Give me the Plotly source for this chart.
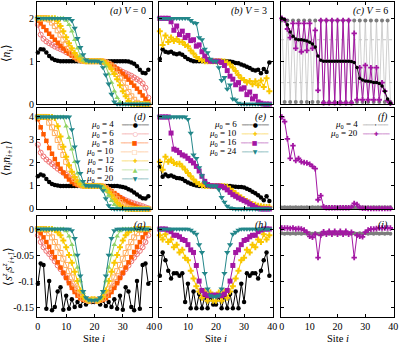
import plotly.graph_objects as go

SITES = list(range(40))

# ---------------- (a) <n_i>, V = 0 ----------------
A_N_MU4 = [1.2, 1.28, 1.27, 1.2, 1.12, 1.06, 1.03, 1.01, 1.0, 1.0,
           1.0, 1.0, 1.0, 1.0, 1.0, 1.0, 1.0, 1.0, 1.0, 1.0,
           1.0, 1.0, 1.0, 1.0, 1.0, 1.0, 1.0, 1.0, 1.0, 1.0,
           1.0, 1.0, 0.99, 0.97, 0.94, 0.88, 0.8, 0.73, 0.72, 0.8]
A_N_MU6 = [1.85, 1.62, 1.52, 1.46, 1.42, 1.38, 1.34, 1.31, 1.28, 1.25,
           1.21, 1.18, 1.14, 1.1, 1.07, 1.04, 1.02, 1.0, 1.0, 1.0,
           1.0, 1.0, 1.0, 0.98, 0.96, 0.93, 0.9, 0.86, 0.82, 0.79,
           0.75, 0.72, 0.69, 0.66, 0.62, 0.58, 0.54, 0.48, 0.38, 0.15]
A_N_MU8 = [1.95, 1.88, 1.8, 1.72, 1.64, 1.57, 1.5, 1.43, 1.36, 1.3,
           1.24, 1.18, 1.13, 1.08, 1.05, 1.02, 1.0, 1.0, 1.0, 1.0,
           1.0, 1.0, 1.0, 1.0, 0.98, 0.95, 0.92, 0.87, 0.82, 0.76,
           0.7, 0.64, 0.57, 0.5, 0.43, 0.36, 0.28, 0.2, 0.12, 0.05]
A_N_MU10 = [2.0, 2.0, 2.0, 2.0, 1.97, 1.9, 1.82, 1.72, 1.62, 1.5,
            1.4, 1.3, 1.2, 1.12, 1.06, 1.03, 1.01, 1.0, 1.0, 1.0,
            1.0, 1.0, 1.0, 0.99, 0.97, 0.94, 0.88, 0.8, 0.7, 0.6,
            0.5, 0.38, 0.28, 0.18, 0.1, 0.03, 0.0, 0.0, 0.0, 0.0]
A_N_MU12 = [2.0, 2.0, 2.0, 2.0, 2.0, 2.0, 2.0, 1.93, 1.82, 1.7,
            1.56, 1.42, 1.3, 1.19, 1.1, 1.04, 1.01, 1.0, 1.0, 1.0,
            1.0, 1.0, 1.0, 0.99, 0.96, 0.9, 0.81, 0.7, 0.58, 0.44,
            0.3, 0.18, 0.07, 0.0, 0.0, 0.0, 0.0, 0.0, 0.0, 0.0]
A_N_MU16 = [2.0, 2.0, 2.0, 2.0, 2.0, 2.0, 2.0, 2.0, 2.0, 2.0,
            1.95, 1.85, 1.7, 1.5, 1.3, 1.12, 1.02, 1.0, 1.0, 1.0,
            1.0, 1.0, 1.0, 0.98, 0.88, 0.7, 0.5, 0.3, 0.15, 0.05,
            0.0, 0.0, 0.0, 0.0, 0.0, 0.0, 0.0, 0.0, 0.0, 0.0]
A_N_MU20 = [2.0, 2.0, 2.0, 2.0, 2.0, 2.0, 2.0, 2.0, 2.0, 2.0,
            2.0, 2.0, 1.95, 1.77, 1.53, 1.32, 1.15, 1.03, 1.0, 1.0,
            1.0, 1.0, 0.97, 0.85, 0.68, 0.47, 0.23, 0.05, 0.0, 0.0,
            0.0, 0.0, 0.0, 0.0, 0.0, 0.0, 0.0, 0.0, 0.0, 0.0]

# ---------------- (d) <n_i n_i+1>, V = 0 ----------------
D_NN_MU4 = [1.42, 1.5, 1.45, 1.3, 1.17, 1.08, 1.04, 1.02, 1.0, 1.0,
            1.0, 1.0, 1.0, 1.0, 1.0, 1.0, 1.0, 1.0, 1.0, 1.0,
            1.0, 1.0, 1.0, 1.0, 1.0, 1.0, 1.0, 1.0, 1.0, 0.98,
            0.96, 0.92, 0.86, 0.8, 0.72, 0.63, 0.54, 0.47, 0.45, 0.55]
D_NN_MU6 = [2.8, 2.45, 2.28, 2.15, 2.05, 1.95, 1.85, 1.75, 1.66, 1.57,
            1.48, 1.38, 1.3, 1.2, 1.13, 1.07, 1.03, 1.0, 1.0, 1.0,
            1.0, 1.0, 1.0, 0.95, 0.88, 0.8, 0.72, 0.65, 0.58, 0.5,
            0.44, 0.38, 0.33, 0.28, 0.24, 0.2, 0.16, 0.12, 0.07, 0.03]
D_NN_MU8 = [3.9, 3.55, 3.25, 2.96, 2.65, 2.4, 2.17, 1.95, 1.75, 1.58,
            1.42, 1.28, 1.17, 1.09, 1.04, 1.01, 1.0, 1.0, 1.0, 1.0,
            1.0, 1.0, 1.0, 0.98, 0.93, 0.86, 0.78, 0.69, 0.6, 0.51,
            0.42, 0.34, 0.27, 0.2, 0.14, 0.09, 0.05, 0.03, 0.01, 0.0]
D_NN_MU10 = [4.0, 4.0, 4.0, 4.0, 3.75, 3.55, 3.3, 3.0, 2.7, 2.35,
             2.05, 1.75, 1.5, 1.3, 1.15, 1.06, 1.02, 1.0, 1.0, 1.0,
             1.0, 1.0, 1.0, 0.97, 0.9, 0.8, 0.68, 0.55, 0.42, 0.3,
             0.19, 0.1, 0.05, 0.02, 0.0, 0.0, 0.0, 0.0, 0.0, 0.0]
D_NN_MU12 = [4.0, 4.0, 4.0, 4.0, 4.0, 4.0, 3.95, 3.6, 3.15, 2.7,
             2.27, 1.9, 1.62, 1.38, 1.18, 1.06, 1.01, 1.0, 1.0, 1.0,
             1.0, 1.0, 1.0, 0.97, 0.88, 0.74, 0.58, 0.42, 0.27, 0.14,
             0.05, 0.01, 0.0, 0.0, 0.0, 0.0, 0.0, 0.0, 0.0, 0.0]
D_NN_MU16 = [4.0, 4.0, 4.0, 4.0, 4.0, 4.0, 4.0, 4.0, 4.0, 4.0,
             3.6, 3.1, 2.6, 2.05, 1.55, 1.2, 1.04, 1.0, 1.0, 1.0,
             1.0, 1.0, 1.0, 0.95, 0.8, 0.58, 0.36, 0.18, 0.06, 0.01,
             0.0, 0.0, 0.0, 0.0, 0.0, 0.0, 0.0, 0.0, 0.0, 0.0]
D_NN_MU20 = [4.0, 4.0, 4.0, 4.0, 4.0, 4.0, 4.0, 4.0, 4.0, 4.0,
             4.0, 4.0, 3.45, 2.7, 2.05, 1.55, 1.2, 1.02, 1.0, 1.0,
             1.0, 1.0, 0.97, 0.8, 0.45, 0.15, 0.03, 0.0, 0.0, 0.0,
             0.0, 0.0, 0.0, 0.0, 0.0, 0.0, 0.0, 0.0, 0.0, 0.0]

# ---------------- (g) <s_i s_i+1>, V = 0 ----------------
G_SZ_MU4 = [-0.105, -0.066, -0.069, -0.153, -0.1, -0.156, -0.15, -0.12, -0.112, -0.155,
            -0.128, -0.153, -0.135, -0.15, -0.14, -0.148, -0.138, -0.145, -0.138, -0.14,
            -0.14, -0.138, -0.145, -0.138, -0.148, -0.14, -0.15, -0.135, -0.153, -0.128,
            -0.155, -0.112, -0.12, -0.15, -0.156, -0.1, -0.153, -0.069, -0.066, -0.105]
G_SZ_MU6 = [-0.012, -0.025, -0.035, -0.042, -0.048, -0.055, -0.062, -0.07, -0.077, -0.085,
            -0.093, -0.101, -0.109, -0.117, -0.124, -0.13, -0.134, -0.136, -0.138, -0.136,
            -0.136, -0.138, -0.136, -0.134, -0.13, -0.124, -0.117, -0.109, -0.101, -0.093,
            -0.085, -0.077, -0.07, -0.062, -0.055, -0.048, -0.042, -0.035, -0.025, -0.012]
G_SZ_MU8 = [-0.002, -0.008, -0.016, -0.025, -0.034, -0.044, -0.054, -0.064, -0.074, -0.084,
            -0.094, -0.104, -0.113, -0.121, -0.128, -0.133, -0.136, -0.137, -0.135, -0.138,
            -0.138, -0.135, -0.137, -0.136, -0.133, -0.128, -0.121, -0.113, -0.104, -0.094,
            -0.084, -0.074, -0.064, -0.054, -0.044, -0.034, -0.025, -0.016, -0.008, -0.002]
G_SZ_MU10 = [0.0, 0.0, 0.0, -0.002, -0.008, -0.016, -0.025, -0.035, -0.046, -0.057,
             -0.069, -0.081, -0.093, -0.105, -0.116, -0.126, -0.132, -0.136, -0.138, -0.136,
             -0.136, -0.138, -0.136, -0.132, -0.126, -0.116, -0.105, -0.093, -0.081, -0.069,
             -0.057, -0.046, -0.035, -0.025, -0.016, -0.008, -0.002, 0.0, 0.0, 0.0]
G_SZ_MU12 = [0.0, 0.0, 0.0, 0.0, 0.0, 0.0, -0.002, -0.006, -0.012, -0.022,
             -0.035, -0.05, -0.065, -0.082, -0.1, -0.118, -0.13, -0.135, -0.138, -0.135,
             -0.135, -0.138, -0.135, -0.13, -0.118, -0.1, -0.082, -0.065, -0.05, -0.035,
             -0.022, -0.012, -0.006, -0.002, 0.0, 0.0, 0.0, 0.0, 0.0, 0.0]
G_SZ_MU16 = [0.0, 0.0, 0.0, 0.0, 0.0, 0.0, 0.0, 0.0, 0.0, 0.0,
             -0.004, -0.014, -0.03, -0.05, -0.074, -0.1, -0.122, -0.133, -0.137, -0.136,
             -0.136, -0.137, -0.133, -0.122, -0.1, -0.074, -0.05, -0.03, -0.014, -0.004,
             0.0, 0.0, 0.0, 0.0, 0.0, 0.0, 0.0, 0.0, 0.0, 0.0]
G_SZ_MU20 = [0.0, 0.0, 0.0, 0.0, 0.0, 0.0, 0.0, 0.0, 0.0, 0.0,
             0.0, 0.0, -0.003, -0.018, -0.05, -0.09, -0.12, -0.132, -0.136, -0.137,
             -0.137, -0.136, -0.132, -0.12, -0.09, -0.05, -0.018, -0.003, 0.0, 0.0,
             0.0, 0.0, 0.0, 0.0, 0.0, 0.0, 0.0, 0.0, 0.0, 0.0]

# ---------------- (b) <n_i>, V = 3 ----------------
B_N_MU6 = [1.05, 1.28, 1.22, 1.2, 1.22, 1.18, 1.16, 1.18, 1.15, 1.1,
           1.05, 1.02, 1.0, 1.0, 1.0, 1.0, 1.0, 1.0, 1.0, 1.0,
           1.0, 1.0, 1.0, 1.0, 1.0, 0.99, 0.98, 0.96, 0.95, 0.92,
           0.9, 0.87, 0.84, 0.8, 0.78, 0.8, 0.72, 0.82, 0.75, 0.97]
B_N_MU10 = [1.7, 1.38, 1.6, 1.45, 1.55, 1.47, 1.52, 1.45, 1.45, 1.38,
            1.35, 1.25, 1.18, 1.1, 1.05, 1.02, 1.0, 1.0, 1.0, 1.0,
            1.0, 1.0, 1.0, 0.99, 0.97, 0.92, 0.85, 0.77, 0.68, 0.6,
            0.56, 0.5, 0.54, 0.46, 0.53, 0.44, 0.55, 0.4, 0.6, 0.3]
B_N_MU16 = [2.0, 2.0, 2.0, 2.0, 1.92, 1.72, 1.82, 1.62, 1.7, 1.55,
            1.6, 1.48, 1.5, 1.35, 1.38, 1.22, 1.12, 1.04, 1.0, 1.0,
            1.0, 1.0, 0.97, 0.9, 0.78, 0.65, 0.58, 0.45, 0.5, 0.35,
            0.38, 0.22, 0.28, 0.12, 0.18, 0.05, 0.02, 0.0, 0.0, 0.0]
B_N_MU24 = [2.0, 2.0, 2.0, 2.0, 2.0, 2.0, 2.0, 2.0, 2.0, 2.0,
            2.0, 1.95, 1.9, 1.88, 1.55, 1.5, 1.28, 1.2, 1.05, 1.0,
            1.0, 0.85, 0.55, 0.62, 0.35, 0.45, 0.12, 0.1, 0.02, 0.0,
            0.0, 0.0, 0.0, 0.0, 0.0, 0.0, 0.0, 0.0, 0.0, 0.0]

# ---------------- (e) <n_i n_i+1>, V = 3 ----------------
E_NN_MU6 = [1.85, 1.4, 1.5, 1.42, 1.45, 1.4, 1.35, 1.33, 1.3, 1.22,
            1.15, 1.1, 1.05, 1.02, 1.0, 1.0, 1.0, 1.0, 1.0, 1.0,
            1.0, 1.0, 1.0, 1.0, 1.0, 1.0, 0.98, 0.97, 0.96, 0.95,
            0.93, 0.88, 0.82, 0.75, 0.68, 0.6, 0.5, 0.38, 0.55, 0.35]
E_NN_MU10 = [2.05, 1.7, 2.27, 2.05, 2.15, 2.0, 1.95, 1.97, 1.85, 1.72,
             1.56, 1.42, 1.28, 1.16, 1.08, 1.03, 1.0, 1.0, 1.0, 1.0,
             1.0, 1.0, 1.0, 0.99, 0.97, 0.88, 0.78, 0.68, 0.58, 0.5,
             0.42, 0.35, 0.28, 0.22, 0.18, 0.14, 0.12, 0.1, 0.08, 0.1]
E_NN_MU16 = [4.0, 4.0, 4.0, 4.0, 3.3, 2.6, 2.55, 2.45, 2.35, 2.3,
             2.2, 2.1, 2.0, 1.85, 1.65, 1.42, 1.2, 1.06, 1.01, 1.0,
             1.0, 1.0, 0.98, 0.92, 0.83, 0.72, 0.62, 0.55, 0.48, 0.42,
             0.36, 0.3, 0.22, 0.15, 0.08, 0.03, 0.0, 0.0, 0.0, 0.0]
E_NN_MU24 = [4.0, 4.0, 4.0, 4.0, 4.0, 4.0, 4.0, 4.0, 4.0, 4.0,
             3.9, 3.3, 2.35, 2.2, 1.8, 1.45, 1.15, 1.03, 1.0, 1.0,
             1.0, 0.85, 0.5, 0.3, 0.12, 0.05, 0.02, 0.0, 0.0, 0.0,
             0.0, 0.0, 0.0, 0.0, 0.0, 0.0, 0.0, 0.0, 0.0, 0.0]

# ---------------- (h) <s_i s_i+1>, V = 3 ----------------
H_SZ_MU6 = [-0.09, -0.045, -0.06, -0.08, -0.095, -0.085, -0.085, -0.09, -0.085, -0.14,
            -0.105, -0.152, -0.12, -0.152, -0.125, -0.152, -0.13, -0.152, -0.13, -0.145,
            -0.145, -0.13, -0.152, -0.13, -0.152, -0.125, -0.152, -0.12, -0.152, -0.105,
            -0.14, -0.085, -0.09, -0.085, -0.085, -0.095, -0.08, -0.06, -0.045, -0.09]
H_SZ_MU10 = [-0.012, -0.02, -0.01, -0.025, -0.02, -0.035, -0.03, -0.045, -0.04, -0.055,
             -0.06, -0.08, -0.095, -0.11, -0.12, -0.132, -0.12, -0.138, -0.122, -0.138,
             -0.138, -0.122, -0.138, -0.12, -0.132, -0.12, -0.11, -0.095, -0.08, -0.06,
             -0.055, -0.04, -0.045, -0.03, -0.035, -0.02, -0.025, -0.01, -0.02, -0.012]
H_SZ_MU16 = [0.0, 0.0, 0.0, -0.002, -0.005, -0.012, -0.012, -0.015, -0.02, -0.022,
             -0.03, -0.04, -0.045, -0.07, -0.1, -0.118, -0.125, -0.128, -0.128, -0.127,
             -0.127, -0.128, -0.128, -0.125, -0.118, -0.1, -0.07, -0.045, -0.04, -0.03,
             -0.022, -0.02, -0.015, -0.012, -0.012, -0.005, -0.002, 0.0, 0.0, 0.0]
H_SZ_MU24 = [0.0, 0.0, 0.0, 0.0, 0.0, 0.0, 0.0, 0.0, 0.0, 0.0,
             0.0, -0.002, -0.006, -0.01, -0.03, -0.045, -0.085, -0.115, -0.128, -0.13,
             -0.13, -0.128, -0.115, -0.085, -0.045, -0.03, -0.01, -0.006, -0.002, 0.0,
             0.0, 0.0, 0.0, 0.0, 0.0, 0.0, 0.0, 0.0, 0.0, 0.0]

# ---------------- (c) <n_i>, V = 6 ----------------
C_N_MU4 = [1.95, 0.05, 1.95, 0.05, 1.95, 0.05, 1.95, 0.05, 1.95, 0.05,
           1.95, 0.05, 1.95, 0.05, 1.95, 0.05, 1.95, 0.05, 1.95, 0.05,
           1.95, 0.05, 1.95, 0.05, 1.95, 0.05, 1.95, 0.05, 1.95, 0.05,
           1.95, 0.05, 1.95, 0.05, 1.95, 0.05, 1.95, 0.05, 1.95, 0.05]
C_N_MU20 = [2.0, 1.96, 1.75, 1.55, 1.88, 1.3, 1.88, 1.22, 1.88, 1.25,
            1.88, 1.3, 1.72, 0.32, 1.95, 0.03, 1.95, 0.03, 1.95, 0.03,
            1.95, 0.03, 1.95, 0.03, 1.95, 0.03, 1.65, 0.1, 0.85, 0.1,
            0.9, 0.1, 0.85, 0.1, 0.85, 0.1, 0.5, 0.3, 0.08, 0.02]
C_N_MU20_AVG = [2.0, 1.97, 1.85, 1.68, 1.58, 1.52, 1.5, 1.5, 1.49, 1.47,
                1.44, 1.4, 1.33, 1.12, 1.02, 1.0, 1.0, 1.0, 1.0, 1.0,
                1.0, 1.0, 1.0, 1.0, 1.0, 0.99, 0.97, 0.85, 0.6, 0.56,
                0.54, 0.53, 0.52, 0.5, 0.5, 0.48, 0.42, 0.3, 0.12, 0.02]
C_REF_LEVELS = [0.5, 1.5]

# ---------------- (f) <n_i n_i+1>, V = 6 ----------------
F_NN_MU4 = [0.06, 0.07, 0.06, 0.07, 0.06, 0.07, 0.06, 0.07, 0.06, 0.07,
            0.06, 0.07, 0.06, 0.07, 0.06, 0.07, 0.06, 0.07, 0.06, 0.07,
            0.06, 0.07, 0.06, 0.07, 0.06, 0.07, 0.06, 0.07, 0.06, 0.07,
            0.06, 0.07, 0.06, 0.07, 0.06, 0.07, 0.06, 0.07, 0.06, 0.07]
F_NN_MU20 = [4.0, 3.8, 3.05, 2.2, 2.75, 2.1, 2.2, 2.05, 2.02, 2.0,
             1.95, 1.85, 1.75, 0.4, 0.58, 0.1, 0.05, 0.05, 0.05, 0.05,
             0.05, 0.05, 0.05, 0.05, 0.05, 0.08, 0.24, 0.2, 0.06, 0.03,
             0.03, 0.02, 0.02, 0.02, 0.02, 0.02, 0.02, 0.02, 0.02, 0.02]

# ---------------- (i) <s_i s_i+1>, V = 6 ----------------
I_SZ_MU4 = [-0.008, -0.009, -0.008, -0.009, -0.008, -0.009, -0.008, -0.009, -0.008, -0.009,
            -0.008, -0.009, -0.008, -0.009, -0.008, -0.009, -0.008, -0.009, -0.008, -0.009,
            -0.008, -0.009, -0.008, -0.009, -0.008, -0.009, -0.008, -0.009, -0.008, -0.009,
            -0.008, -0.009, -0.008, -0.009, -0.008, -0.009, -0.008, -0.009, -0.008, -0.009]
I_SZ_MU20 = [0.002, 0.002, 0.002, 0.001, 0.002, 0.0, 0.001, 0.0, -0.002, -0.006,
             -0.014, -0.016, -0.01, -0.055, -0.012, -0.005, -0.01, -0.004, -0.01, -0.004,
             -0.01, -0.004, -0.01, -0.004, -0.01, -0.006, -0.055, -0.012, -0.014, -0.015,
             -0.006, -0.002, 0.0, 0.0, 0.001, 0.002, 0.002, 0.002, 0.002, 0.002]

# axes
X_TICKS = [0, 10, 20, 30, 40]
X_TICK_TEXT = ["0", "10", "20", "30", "40"]
Y_TICKS = [[0, 1, 2], [0, 1, 2, 3, 4], [0, -0.05, -0.1, -0.15]]
Y_TICK_TEXT = [["0", "1", "2"], ["0", "1", "2", "3", "4"], ["0", "-0.05", "-0.1", "-0.15"]]
Y_RANGES = [[0, 2.38], [0, 4.39], [-0.169, 0.025]]
X_RANGE = [-0.3, 40.3]
X_DOMAINS = [[0.0, 0.3221], [0.3417, 0.6611], [0.6835, 1.0]]
Y_DOMAINS = [[0.676, 1.0], [0.343, 0.6635], [0.0, 0.3206]]

FONT = "Liberation Serif"
BLACK = "#000000"
SALMON = "#f07272"
ORANGE = "#ff5a00"
LORANGE = "#ffad5c"
GOLD = "#f9c700"
GREEN = "#92d466"
TEAL = "#23878a"
PURPLE = "#a316a3"
GRAY = "#7c7c7c"
LIGHTGRAY = "#c4c4c4"

S_MU4 = dict(color=BLACK, symbol="circle", size=4.5)
S_MU6 = dict(color=SALMON, symbol="circle-open", size=5)
S_MU8 = dict(color=ORANGE, symbol="square", size=4.5)
S_MU10 = dict(color=LORANGE, symbol="square-open", size=5)
S_MU12 = dict(color=GOLD, symbol="cross", size=5)
S_MU16 = dict(color=GREEN, symbol="triangle-up", size=5)
S_MU20 = dict(color=TEAL, symbol="triangle-down", size=5.5)
S_GOLD = dict(color=GOLD, symbol="cross", size=5)
S_PSQ = dict(color=PURPLE, symbol="square", size=5)
S_PCROSS = dict(color=PURPLE, symbol="cross", size=4.5)
S_GRAY = dict(color=GRAY, symbol="circle", size=4, line=LIGHTGRAY, width=0.8)
S_AVG = dict(color=BLACK, symbol="circle", size=3.5, width=0.8)

COL1 = [S_MU4, S_MU6, S_MU8, S_MU10, S_MU12, S_MU16, S_MU20]
COL2 = [S_MU4, S_GOLD, S_PSQ, S_MU20]

PANELS = {
    1: list(zip([A_N_MU4, A_N_MU6, A_N_MU8, A_N_MU10, A_N_MU12, A_N_MU16, A_N_MU20], COL1)),
    4: list(zip([D_NN_MU4, D_NN_MU6, D_NN_MU8, D_NN_MU10, D_NN_MU12, D_NN_MU16, D_NN_MU20], COL1)),
    7: list(zip([G_SZ_MU4, G_SZ_MU6, G_SZ_MU8, G_SZ_MU10, G_SZ_MU12, G_SZ_MU16, G_SZ_MU20], COL1)),
    2: list(zip([B_N_MU6, B_N_MU10, B_N_MU16, B_N_MU24], COL2)),
    5: list(zip([E_NN_MU6, E_NN_MU10, E_NN_MU16, E_NN_MU24], COL2)),
    8: list(zip([H_SZ_MU6, H_SZ_MU10, H_SZ_MU16, H_SZ_MU24], COL2)),
    3: [(C_N_MU4, S_GRAY), (C_N_MU20, S_PCROSS), (C_N_MU20_AVG, S_AVG)],
    6: [(F_NN_MU4, S_GRAY), (F_NN_MU20, S_PCROSS)],
    9: [(I_SZ_MU4, S_GRAY), (I_SZ_MU20, S_PCROSS)],
}


def ax(k):
    return ("x", "y") if k == 1 else (f"x{k}", f"y{k}")


fig = go.Figure()
for k, series in PANELS.items():
    xa, ya = ax(k)
    for values, st in series:
        assert len(values) == len(SITES)
        fig.add_trace(go.Scatter(
            x=SITES, y=values, xaxis=xa, yaxis=ya,
            mode="lines+markers",
            line=dict(color=st.get("line", st["color"]), width=st.get("width", 1.0)),
            marker=dict(symbol=st["symbol"], size=st["size"], color=st["color"],
                        line=dict(width=0)),
            cliponaxis=False, showlegend=False, hoverinfo="skip",
        ))

axis_style = dict(
    showline=True, linecolor="black", linewidth=1, mirror="ticks",
    ticks="inside", ticklen=3, tickwidth=1, tickcolor="black",
    showgrid=False, zeroline=False,
    tickfont=dict(family=FONT, size=10, color="black"),
)

layout_axes = {}
for r in range(3):
    for c in range(3):
        k = 3 * r + c + 1
        xa, ya = ax(k)
        layout_axes["xaxis" if k == 1 else f"xaxis{k}"] = dict(
            domain=X_DOMAINS[c], anchor=ya, range=X_RANGE,
            tickvals=X_TICKS, ticktext=X_TICK_TEXT, showticklabels=(r == 2),
            **axis_style)
        layout_axes["yaxis" if k == 1 else f"yaxis{k}"] = dict(
            domain=Y_DOMAINS[r], anchor=xa, range=Y_RANGES[r],
            tickvals=Y_TICKS[r], ticktext=Y_TICK_TEXT[r], showticklabels=(c == 0),
            **axis_style)

annotations = []
PANEL_LABELS = {
    1: "<i>(a)</i> <i>V</i> = 0", 2: "<i>(b)</i> <i>V</i> = 3", 3: "<i>(c)</i> <i>V</i> = 6",
    4: "<i>(d)</i>", 5: "<i>(e)</i>", 6: "<i>(f)</i>",
    7: "<i>(g)</i>", 8: "<i>(h)</i>", 9: "<i>(i)</i>",
}
for k, txt in PANEL_LABELS.items():
    xa, ya = ax(k)
    annotations.append(dict(
        text=txt, xref=f"{xa} domain", yref=f"{ya} domain", x=0.965, y=0.915,
        xanchor="right", yanchor="middle", showarrow=False,
        font=dict(family=FONT, size=10, color="black")))

Y_TITLES = ["⟨<i>n<sub>i</sub></i>⟩",
            "⟨<i>n<sub>i</sub>n<sub>i+1</sub></i>⟩",
            "⟨<i>s<sup>z</sup><sub>i</sub>s<sup>z</sup><sub>i+1</sub></i>⟩"]
for r, txt in enumerate(Y_TITLES):
    annotations.append(dict(
        text=txt, xref="paper", yref="paper", x=-0.083,
        y=(Y_DOMAINS[r][0] + Y_DOMAINS[r][1]) / 2,
        xanchor="center", yanchor="middle", textangle=-90, showarrow=False,
        font=dict(family=FONT, size=11.5, color="black")))

for c in range(3):
    annotations.append(dict(
        text="Site <i>i</i>", xref="paper", yref="paper",
        x=(X_DOMAINS[c][0] + X_DOMAINS[c][1]) / 2, y=-0.068,
        xanchor="center", yanchor="middle", showarrow=False,
        font=dict(family=FONT, size=10.5, color="black")))

# key boxes (text label, then line sample)
KEYS = {
    4: [("4", "●", BLACK), ("6", "○", SALMON), ("8", "■", ORANGE), ("10", "□", LORANGE),
        ("12", "✚", GOLD), ("16", "▲", GREEN), ("20", "▼", TEAL)],
    5: [("6", "●", BLACK), ("10", "✚", GOLD), ("16", "■", PURPLE), ("24", "▼", TEAL)],
    6: [("4", "•", GRAY), ("20", "✚", PURPLE)],
}
KEY_X = {4: (0.68, 0.85), 5: (0.695, 0.84), 6: (0.69, 0.84)}
KEY_TOP, KEY_STEP = 0.832, 0.089
for k, entries in KEYS.items():
    xa, ya = ax(k)
    xl, xs = KEY_X[k]
    for j, (mu, glyph, col) in enumerate(entries):
        yy = KEY_TOP - j * KEY_STEP
        annotations.append(dict(
            text=f"<i>μ</i><sub>0</sub> = {mu}", xref=f"{xa} domain", yref=f"{ya} domain",
            x=xl, y=yy, xanchor="right", yanchor="middle", showarrow=False, borderpad=0,
            font=dict(family=FONT, size=9, color="black")))
        annotations.append(dict(
            text=f"───{glyph}───", xref=f"{xa} domain", yref=f"{ya} domain",
            x=xs, y=yy, xanchor="center", yanchor="middle", showarrow=False, borderpad=0,
            font=dict(family="DejaVu Sans", size=6, color=col)))

shapes = [dict(type="line", xref="x3 domain", yref="y3", x0=0, x1=1, y0=lv, y1=lv,
               line=dict(color="#b8b8b8", width=0.8, dash="dot"), layer="below")
          for lv in C_REF_LEVELS]

fig.update_layout(
    width=399, height=343,
    margin=dict(l=37, r=5, t=2, b=26),
    paper_bgcolor="white", plot_bgcolor="white",
    showlegend=False,
    annotations=annotations, shapes=shapes,
    **layout_axes,
)

fig.write_html("out.html", config={"displayModeBar": False},
               post_script="document.body.style.margin='0';")
